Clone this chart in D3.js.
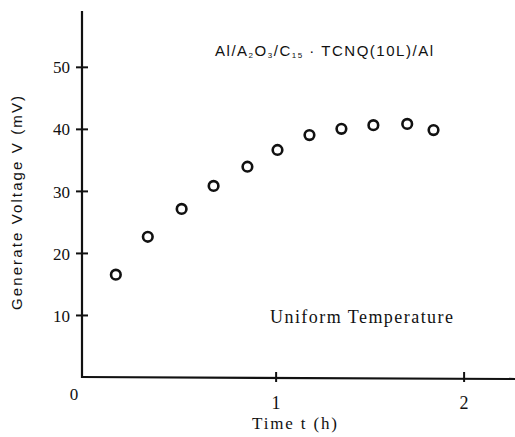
<!DOCTYPE html>
<html>
<head>
<meta charset="utf-8">
<script src="https://cdn.jsdelivr.net/npm/d3@7"></script>
<style>
  body { margin: 0; background: #fff; }
  svg { display: block; }
  .serif { font-family: "Liberation Serif", "DejaVu Serif", serif; fill: #111; }
  .sans { font-family: "Liberation Sans", Arial, sans-serif; fill: #111; }
</style>
</head>
<body>
<svg></svg>
<script>
const width = 515;
const height = 437;

// data
const timeH = [0.15, 0.32, 0.50, 0.67, 0.85, 1.01, 1.18, 1.35, 1.52, 1.70, 1.84];
const voltageMv = [16.5, 22.6, 27.1, 30.8, 33.9, 36.6, 39.0, 40.0, 40.6, 40.8, 39.8];
const yTicks = [10, 20, 30, 40, 50];
const xTicks = [1, 2];

const svg = d3.select("svg").attr("width", width).attr("height", height);

// scales
const x = d3.scaleLinear().domain([-0.03, 2.3]).range([82, 520]);
const y = d3.scaleLinear().domain([0, 59]).range([377, 11]);

const x0 = x(-0.03);
const y0 = y(0);

// y axis
const gy = svg.append("g")
  .attr("transform", `translate(${x0},0)`)
  .call(d3.axisLeft(y).tickValues(yTicks).tickSize(6).tickPadding(8));
gy.select(".domain").remove();
gy.selectAll(".tick line").attr("x1", -6).attr("x2", 6).attr("stroke", "#111").attr("stroke-width", 2);
gy.selectAll(".tick text")
  .attr("class", "serif")
  .attr("font-size", 17)
  .attr("dx", 2)
  .attr("dy", "0.36em");

svg.append("line")
  .attr("x1", x0).attr("x2", x0)
  .attr("y1", y(59)).attr("y2", y0 + 1)
  .attr("stroke", "#111").attr("stroke-width", 2.2);

// x axis
const gx = svg.append("g")
  .attr("transform", `translate(0,${y0})`)
  .call(d3.axisBottom(x).tickValues(xTicks).tickFormat(d3.format("d")).tickSize(5).tickPadding(14));
gx.select(".domain").remove();
gx.selectAll(".tick line").attr("y1", -5).attr("y2", 5).attr("stroke", "#111").attr("stroke-width", 2);
gx.selectAll(".tick text").attr("class", "serif").attr("font-size", 18);
svg.append("line")
  .attr("x1", x0 - 1).attr("x2", width)
  .attr("y1", y0).attr("y2", y0 + 2)
  .attr("stroke", "#111").attr("stroke-width", 2.2);

// origin label
svg.append("text")
  .attr("class", "serif")
  .attr("x", 74).attr("y", 400)
  .attr("text-anchor", "middle")
  .attr("font-size", 17)
  .text("0");

// axis titles
svg.append("text")
  .attr("class", "serif")
  .attr("x", 252).attr("y", 429)
  .attr("font-size", 17)
  .attr("textLength", 85)
  .text("Time t (h)");

svg.append("text")
  .attr("class", "sans")
  .attr("transform", "rotate(-90)")
  .attr("x", -203).attr("y", 22)
  .attr("text-anchor", "middle")
  .attr("font-size", 15)
  .attr("textLength", 214)
  .text("Generate Voltage V (mV)");

// sample label
const title = svg.append("text")
  .attr("class", "sans")
  .attr("x", 215).attr("y", 56)
  .attr("font-size", 15)
  .attr("textLength", 218);
title.append("tspan").text("Al/A");
title.append("tspan").attr("font-size", 8).attr("dy", 2).text("2");
title.append("tspan").attr("dy", -2).text("O");
title.append("tspan").attr("font-size", 8).attr("dy", 2).text("3");
title.append("tspan").attr("dy", -2).text("/C");
title.append("tspan").attr("font-size", 8).attr("dy", 2).text("15");
title.append("tspan").attr("dy", -2).text(" · TCNQ(10L)/Al");

svg.append("text")
  .attr("class", "serif")
  .attr("x", 270).attr("y", 323)
  .attr("font-size", 18)
  .attr("textLength", 183)
  .text("Uniform Temperature");

// data points
svg.append("g")
  .selectAll("circle")
  .data(timeH.map((t, i) => ({ t, v: voltageMv[i] })))
  .join("circle")
  .attr("cx", d => x(d.t))
  .attr("cy", d => y(d.v))
  .attr("r", 4.8)
  .attr("fill", "none")
  .attr("stroke", "#111")
  .attr("stroke-width", 2.6);
</script>
</body>
</html>
